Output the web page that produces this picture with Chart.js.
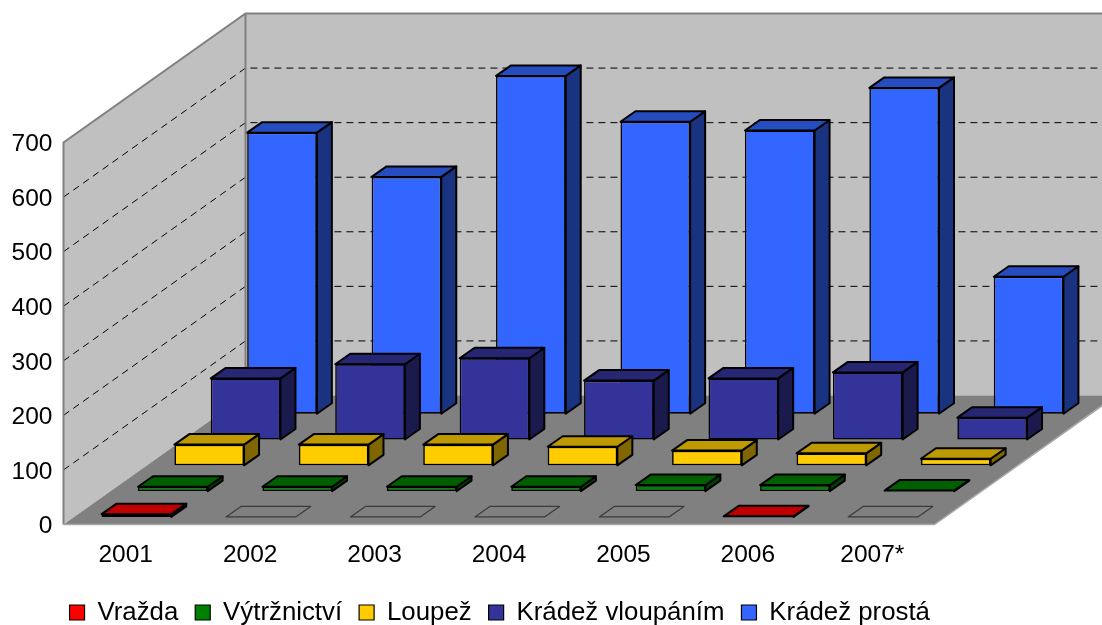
<!DOCTYPE html>
<html><head><meta charset="utf-8">
<style>html,body{margin:0;padding:0;background:#fff}#w{width:1102px;height:625px}</style>
<script src="https://cdn.jsdelivr.net/npm/chart.js@4"></script>
</head><body><div id="w"><canvas id="c"></canvas></div>
<script>
const categories = ['2001','2002','2003','2004','2005','2006','2007*'];
const vrazda = [5,0,0,0,0,1,0];
const vytrznictvi = [8,8,8,8,11,11,1];
const loupez = [38,38,38,34,27,22,12];
const kradezVloupanim = [112,138,149,108,112,123,40];
const kradezProsta = [515,434,619,535,519,597,251];
const seriesNames = ['Vražda','Výtržnictví','Loupež','Krádež vloupáním','Krádež prostá'];

const FONT = {family:'"Liberation Sans", Arial, sans-serif', size:24.5};
const LEGEND_FONT = {family:'"Liberation Sans", Arial, sans-serif', size:25.8};
// oblique projection of the 3D box
const DEPTH_X = 182, DEPTH_Y = 129, SLOTS = 5;
const BAR_DX = 15, BAR_DY = 10.5;
const front = ['#FF0000','#008000','#FFCC00','#333399','#3366FF'];
const top3d = ['#C00000','#006000','#BF9900','#262673','#264DBF'];
const side3d = ['#800000','#004000','#806600','#1A1A4D','#1A3380'];

function poly(ctx, pts, fill, stroke, lw){
  ctx.beginPath();
  pts.forEach((p,i)=> i?ctx.lineTo(p[0],p[1]):ctx.moveTo(p[0],p[1]));
  ctx.closePath();
  if(fill){ctx.fillStyle=fill;ctx.fill();}
  if(stroke){ctx.strokeStyle=stroke;ctx.lineWidth=lw;ctx.lineJoin='round';ctx.stroke();}
}
function offset(i){
  const k = (i + (1-BAR_DX/(DEPTH_X/SLOTS))/2);
  return {x:k*DEPTH_X/SLOTS, y:-k*DEPTH_Y/SLOTS};
}

const box3d = {
  id:'box3d',
  afterLayout(chart){
    const l = chart.legend;
    l.left += 32.5; l.right += 32.5; l.top += 10.4; l.bottom += 10.4;
  },
  beforeDraw(chart){
    const {ctx, chartArea:a, scales:{y}} = chart;
    ctx.save();
    const L=a.left,R=a.right,T=a.top,B=a.bottom,dx=DEPTH_X,dy=DEPTH_Y;
    poly(ctx,[[L+dx,T-dy],[R+dx,T-dy],[R+dx,B-dy],[L+dx,B-dy]],'#C0C0C0');
    poly(ctx,[[L,B],[L,T],[L+dx,T-dy],[L+dx,B-dy]],'#C0C0C0');
    poly(ctx,[[L,B],[R,B],[R+dx,B-dy],[L+dx,B-dy]],'#808080');
    ctx.strokeStyle='#000'; ctx.lineWidth=1; ctx.setLineDash([7,5]);
    y.ticks.forEach(t=>{
      if(t.value===0||t.value===y.max) return;
      const p=y.getPixelForValue(t.value);
      ctx.beginPath();ctx.moveTo(L,p);ctx.lineTo(L+dx,p-dy);ctx.lineTo(R+dx,p-dy);ctx.stroke();
    });
    ctx.setLineDash([]);
    ctx.strokeStyle='#808080'; ctx.lineWidth=2;
    ctx.beginPath();
    ctx.moveTo(L,B);ctx.lineTo(L,T);ctx.lineTo(L+dx,T-dy);ctx.lineTo(R+dx,T-dy);
    ctx.moveTo(L+dx,T-dy);ctx.lineTo(L+dx,B-dy);
    ctx.stroke();
    ctx.strokeStyle='#A8A8A8'; ctx.lineWidth=1.5;
    ctx.beginPath();ctx.moveTo(L,B);ctx.lineTo(R,B);ctx.lineTo(R+dx,B-dy);ctx.stroke();
    ctx.restore();
  },
  beforeDatasetDraw(chart,args){
    const o=offset(args.index);
    chart.ctx.save();
    chart.ctx.translate(o.x,o.y);
  },
  afterDatasetDraw(chart,args){
    const ctx=chart.ctx, i=args.index, d=chart.data.datasets[i].data;
    args.meta.data.forEach((el,j)=>{
      const p=el.getProps(['x','y','base','width'],true);
      const l=p.x-p.width/2, r=p.x+p.width/2, t=p.y, b=p.base;
      const topFace=[[l,t],[r,t],[r+BAR_DX,t-BAR_DY],[l+BAR_DX,t-BAR_DY]];
      if(d[j]===0){ poly(ctx,topFace,'#808080','#3A3A3A',1.2); return; }
      poly(ctx,[[r,t],[r+BAR_DX,t-BAR_DY],[r+BAR_DX,b-BAR_DY],[r,b]],side3d[i],'#000',2);
      poly(ctx,topFace,top3d[i],'#000',2);
    });
    ctx.restore();
  }
};

const allSeries=[vrazda,vytrznictvi,loupez,kradezVloupanim,kradezProsta];
new Chart(document.getElementById('c'),{
  type:'bar',
  data:{labels:categories,datasets:allSeries.map((s,i)=>({
    label:seriesNames[i],data:s,backgroundColor:front[i],borderColor:'#000',borderWidth:1.6,
    borderSkipped:false,grouped:false,clip:false,barPercentage:0.56,categoryPercentage:1
  }))},
  plugins:[box3d],
  options:{
    responsive:true,maintainAspectRatio:false,animation:false,
    layout:{padding:{top:142.5,right:167.5,left:0,bottom:0}},
    plugins:{
      tooltip:{enabled:false},
      legend:{position:'bottom',labels:{font:LEGEND_FONT,color:'#000',boxWidth:15,boxHeight:15,padding:17,
        generateLabels(chart){
          return Chart.defaults.plugins.legend.labels.generateLabels(chart).map(it=>({...it,lineWidth:1.2}));
        }}}
    },
    scales:{
      x:{grid:{display:false,drawTicks:false},border:{display:false},
         ticks:{font:FONT,color:'#000',padding:16,maxRotation:0,autoSkip:false},
         afterFit(s){s.height=47.7;}},
      y:{min:0,max:700,grid:{display:false,drawTicks:false},border:{display:false},
         ticks:{font:FONT,color:'#000',padding:11,stepSize:100,labelOffset:2},
         afterFit(s){s.width=63.5;}}
    }
  }
});
</script></body></html>
